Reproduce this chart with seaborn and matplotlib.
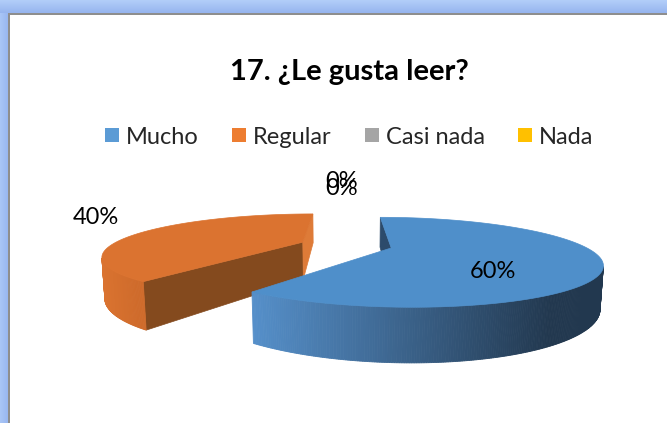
import numpy as np
import matplotlib
matplotlib.use("Agg")
import matplotlib.pyplot as plt
import seaborn as sns
from matplotlib.patches import Polygon, Rectangle
from matplotlib.lines import Line2D
from matplotlib.colors import to_rgb, LinearSegmentedColormap

# ---------------- data ----------------
title = "17. ¿Le gusta leer?"
categories = ["Mucho", "Regular", "Casi nada", "Nada"]
values = [60, 40, 0, 0]
pct_labels = ["60%", "40%", "0%", "0%"]

# ---------------- style ----------------
sns.set_theme(style="white")
plt.rcParams["font.family"] = ["Lato", "DejaVu Sans"]
palette = sns.color_palette(["#5B9BD5", "#ED7D31", "#A5A5A5", "#FFC000"])
top_cols = ["#4F8FCA", "#DB7330", "#A5A5A5", "#FFC000"]
side_light = ["#558FC9", "#DA7330", "#A0A0A0", "#F0B400"]
side_dark = ["#22384F", "#CF6B2B", "#707070", "#B08000"]
cut_start = ["#2C4B6B", "#844A1E", "#6A6A6A", "#A07800"]
cut_end = ["#2C4B6B", "#DE7B38", "#6A6A6A", "#A07800"]

# label placement (radius factor from slice apex, pixel offsets)
lab_r = [0.45, 1.3, 1.0, 1.0]
lab_dx = [12, -6, -4, -4]
lab_dy = [18, -11, -29, -22]

# 3D projection parameters (pixel space)
cx, cy = 346, 245
D = 3.16
Fx, Fy = 604.0, 650.0
phi = np.radians(10.8)
sph, cph = np.sin(phi), np.cos(phi)
thick = 0.19
explode = 0.243
rot = 0.0
cam = np.array([0.0, D * sph, D * cph])


def proj(x, y, z):
    v = y * cph - z * sph
    w = D - z * cph - y * sph
    return cx + Fx * x / w, cy - Fy * v / w


fig = plt.figure(figsize=(6.67, 4.23), dpi=100)
ax = fig.add_axes([0, 0, 1, 1])
ax.axis("off")

# window frame
grad_v = np.linspace(0, 1, 20).reshape(-1, 1)
ax.imshow(grad_v, extent=(0, 667, 13, 0),
          cmap=LinearSegmentedColormap.from_list("b", ["#B2CEF9", "#97B5EF"]), aspect="auto", zorder=0)
grad_h = np.linspace(0, 1, 20).reshape(1, -1)
ax.imshow(grad_h, extent=(0, 8, 423, 13),
          cmap=LinearSegmentedColormap.from_list("b2", ["#A9C6F7", "#99B7F0"]), aspect="auto", zorder=0)
ax.add_patch(Rectangle((8, 13), 659, 2, color="#8E8E8E", lw=0, zorder=1))
ax.add_patch(Rectangle((8, 13), 2, 410, color="#8E8E8E", lw=0, zorder=1))
ax.set_xlim(0, 667)
ax.set_ylim(423, 0)

# slices
total = float(sum(values))
cum = 0.0
slices = []
for i, val in enumerate(values):
    a0 = rot + 360.0 * cum / total
    a1 = a0 + 360.0 * val / total
    cum += val
    mid = np.radians((a0 + a1) / 2)
    ox, oz = explode * np.sin(mid), -explode * np.cos(mid)
    slices.append(dict(i=i, a0=a0, a1=a1, ox=ox, oz=oz))

order = sorted([s for s in slices if values[s["i"]] > 0], key=lambda s: s["oz"])
z = 5
for s in order:
    i = s["i"]
    ox, oz = s["ox"], s["oz"]
    n = max(int(abs(s["a1"] - s["a0"]) * 2), 4)
    th = np.radians(np.linspace(s["a0"], s["a1"], n))
    xs, zs = ox + np.sin(th), oz - np.cos(th)
    top = [proj(a, 0, b) for a, b in zip(xs, zs)]
    bot = [proj(a, -thick, b) for a, b in zip(xs, zs)]
    apex_t = proj(ox, 0, oz)
    apex_b = proj(ox, -thick, oz)

    # cut faces
    for ang, sign, col, k in [(s["a0"], -1, cut_start[i], 0), (s["a1"], 1, cut_end[i], -1)]:
        t = np.radians(ang)
        nrm = sign * np.array([np.cos(t), 0, np.sin(t)])
        P = np.array([ox, -thick / 2, oz])
        if np.dot(nrm, cam - P) > 0:
            ax.add_patch(Polygon([apex_t, top[k], bot[k], apex_b], closed=True,
                                 fc=col, ec=col, lw=0.5, zorder=z))
    z += 1
    # outer side
    vis = []
    for j in range(n - 1):
        tm = (th[j] + th[j + 1]) / 2
        nrm = np.array([np.sin(tm), 0, -np.cos(tm)])
        P = np.array([ox + np.sin(tm), -thick / 2, oz - np.cos(tm)])
        if np.dot(nrm, cam - P) > 0:
            vis.append(j)
    if vis:
        xmin = min(top[j][0] for j in vis)
        xmax = max(top[j + 1][0] for j in vis)
        c1, c2 = np.array(to_rgb(side_light[i])), np.array(to_rgb(side_dark[i]))
        for j in vis:
            xm = (top[j][0] + top[j + 1][0]) / 2
            f = np.clip((xm - xmin) / max(xmax - xmin, 1), 0, 1)
            f = min(f / 0.85, 1.0)
            col = c1 + (c2 - c1) * f
            ax.add_patch(Polygon([top[j], top[j + 1], bot[j + 1], bot[j]], closed=True,
                                 fc=col, ec=col, lw=0.6, zorder=z))
    z += 1
    # top face
    ax.add_patch(Polygon([apex_t] + top, closed=True, fc=top_cols[i], ec=top_cols[i],
                         lw=0.5, zorder=z))
    z += 1

# percentage labels
for s in slices:
    i = s["i"]
    mid = np.radians((s["a0"] + s["a1"]) / 2)
    r = lab_r[i]
    px, py = proj(s["ox"] + r * np.sin(mid), 0, s["oz"] - r * np.cos(mid))
    ax.text(px + lab_dx[i], py + lab_dy[i], pct_labels[i], ha="center", va="center",
            fontsize=17, color="#000000", zorder=50)

# title
ax.text(349, 80, title, ha="center", va="baseline", fontsize=21, fontweight="bold",
        color="#000000", zorder=50)

# legend
handles = [Line2D([], [], ls="none", marker="s", markersize=10.5, markerfacecolor=palette[k],
                  markeredgewidth=0) for k in range(len(categories))]
leg = ax.legend(handles, categories, ncol=4, loc="center", bbox_to_anchor=(349 / 667, 1 - 137 / 423),
                frameon=False, fontsize=17, handlelength=0.6, handletextpad=0.3,
                columnspacing=1.4, borderpad=0, borderaxespad=0)

fig.savefig("out.png", dpi=100)
